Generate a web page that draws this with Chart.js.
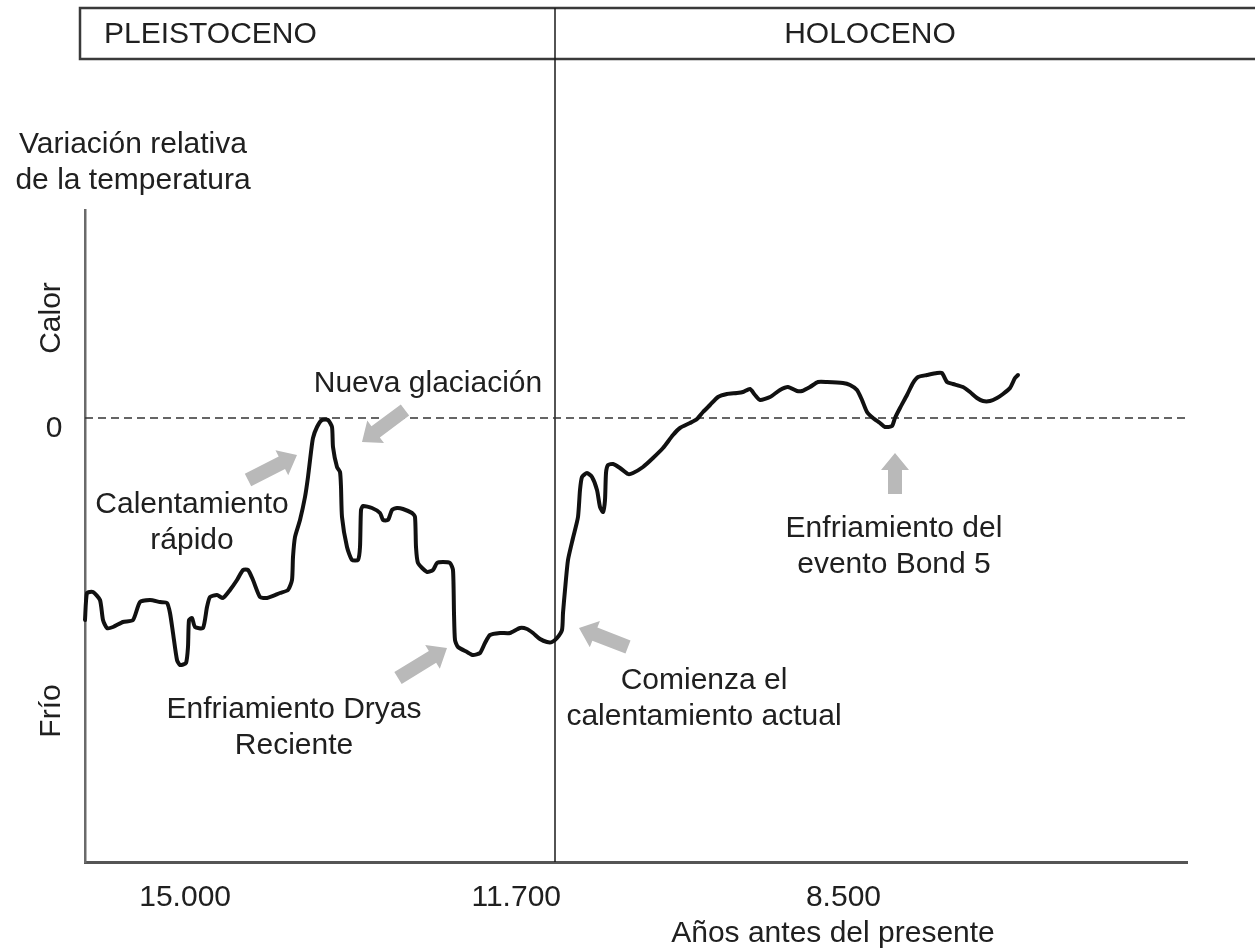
<!DOCTYPE html>
<html lang="es">
<head>
    <meta charset="UTF-8">
    <title>Variación relativa de la temperatura</title>
    <script src="https://cdn.jsdelivr.net/npm/chart.js@4.4.1/dist/chart.umd.min.js"></script>
    <style>
        html, body {
            margin: 0;
            padding: 0;
            background: #ffffff;
        }

        #wrap {
            width: 1255px;
            height: 949px;
        }
    </style>
</head>
<body>
    <div id="wrap"><canvas id="tempChart" width="1255" height="949"></canvas></div>

    <script>
        // años antes del presente
        const years = [
            16400, 16380, 16320, 16250, 16220, 16180, 16120, 16020, 15920, 15850,
            15750, 15650, 15580, 15550, 15520, 15480, 15450, 15390, 15370, 15360,
            15330, 15300, 15220, 15180, 15150, 15080, 15020, 14950, 14880, 14820,
            14770, 14720, 14650, 14580, 14450, 14370, 14330, 14320, 14300, 14250,
            14200, 14170, 14140, 14120, 14080, 14030, 13970, 13930, 13920, 13880,
            13850, 13840, 13830, 13780, 13730, 13670, 13650, 13640, 13620, 13530,
            13450, 13420, 13370, 13330, 13280, 13220, 13130, 13100, 13090, 13070,
            12980, 12920, 12880, 12820, 12750, 12720, 12710, 12700, 12670, 12580,
            12520, 12450, 12400, 12350, 12250, 12150, 12050, 11980, 11920, 11850,
            11780, 11730, 11680, 11630, 11620, 11600, 11570, 11520, 11470, 11450,
            11430, 11380, 11330, 11280, 11250, 11220, 11200, 11190, 11170, 11120,
            11050, 10970, 10920, 10820, 10720, 10620, 10520, 10450, 10350, 10280,
            10220, 10150, 10070, 9980, 9880, 9820, 9750, 9700, 9650, 9550,
            9450, 9370, 9280, 9230, 9150, 9070, 8980, 8820, 8750, 8680,
            8630, 8580, 8520, 8450, 8400, 8330, 8300, 8250, 8180, 8120,
            8070, 7980, 7880, 7830, 7780, 7720, 7620, 7550, 7480, 7420,
            7350, 7280, 7220, 7150, 7100, 7070
        ];

        // variación relativa (0 = nivel actual)
        const temps = [
            -2.02, -1.75, -1.74, -1.82, -2.02, -2.10, -2.09, -2.04, -2.02, -1.84,
            -1.82, -1.84, -1.85, -1.95, -2.15, -2.42, -2.47, -2.45, -2.29, -2.02,
            -2.00, -2.09, -2.10, -1.89, -1.79, -1.77, -1.80, -1.72, -1.62, -1.52,
            -1.52, -1.62, -1.79, -1.80, -1.75, -1.72, -1.62, -1.39, -1.19, -1.02,
            -0.79, -0.59, -0.34, -0.20, -0.09, -0.02, -0.02, -0.09, -0.29, -0.49,
            -0.54, -0.69, -0.99, -1.29, -1.42, -1.42, -1.29, -0.92, -0.88, -0.90,
            -0.95, -1.02, -1.02, -0.92, -0.90, -0.91, -0.95, -0.99, -1.29, -1.45,
            -1.54, -1.52, -1.45, -1.44, -1.45, -1.52, -1.95, -2.22, -2.29, -2.34,
            -2.37, -2.35, -2.25, -2.17, -2.15, -2.15, -2.10, -2.11, -2.15, -2.21,
            -2.24, -2.24, -2.20, -2.12, -1.95, -1.72, -1.42, -1.20, -0.99, -0.72,
            -0.59, -0.55, -0.59, -0.72, -0.89, -0.94, -0.82, -0.55, -0.47, -0.46,
            -0.50, -0.56, -0.55, -0.49, -0.40, -0.30, -0.17, -0.10, -0.05, -0.01,
            0.06, 0.13, 0.21, 0.24, 0.25, 0.26, 0.29, 0.23, 0.18, 0.21,
            0.28, 0.31, 0.27, 0.27, 0.31, 0.36, 0.36, 0.35, 0.33, 0.28,
            0.18, 0.06, 0.00, -0.05, -0.09, -0.08, 0.00, 0.10, 0.23, 0.35,
            0.41, 0.43, 0.45, 0.45, 0.36, 0.34, 0.31, 0.26, 0.20, 0.17,
            0.17, 0.20, 0.24, 0.30, 0.40, 0.43
        ];

        const tickYears = [15000, 11700, 8500];
        const boundaryYear = 11700;
        const zeroSpan = [16400, 5400];
        const periodLabels = ['PLEISTOCENO', 'HOLOCENO'];
        const yTitle = ['Variación relativa', 'de la temperatura'];
        const xTitle = 'Años antes del presente';

        // notas en coordenadas del gráfico (año, valor)
        const notes = [
            { lines: ['Nueva glaciación'], x: 12970, y: 0.26 },
            { lines: ['Calentamiento', 'rápido'], x: 15330, y: -0.95 },
            { lines: ['Enfriamiento Dryas', 'Reciente'], x: 14310, y: -3.00 },
            { lines: ['Comienza el', 'calentamiento actual'], x: 10210, y: -2.71 },
            { lines: ['Enfriamiento del', 'evento Bond 5'], x: 8310, y: -1.19 }
        ];
        const arrows = [
            { from: [14770, -0.62], to: [14280, -0.37] },
            { from: [13200, 0.08], to: [13630, -0.24] },
            { from: [13270, -2.60], to: [12780, -2.30] },
            { from: [10970, -2.29], to: [11460, -2.10] },
            { from: [8300, -0.76], to: [8300, -0.35] }
        ];

        const FONT = '30px "Liberation Sans", Arial, sans-serif';
        const INK = '#202020';

        function fmtYear(v) {
            return String(v).replace(/\B(?=(\d{3})+(?!\d))/g, '.');
        }

        function drawArrow(ctx, x1, y1, x2, y2) {
            const ang = Math.atan2(y2 - y1, x2 - x1);
            const len = Math.hypot(x2 - x1, y2 - y1);
            const shaft = 7, head = 14, headLen = 17;
            ctx.save();
            ctx.translate(x1, y1);
            ctx.rotate(ang);
            ctx.beginPath();
            ctx.moveTo(0, -shaft);
            ctx.lineTo(len - headLen, -shaft);
            ctx.lineTo(len - headLen, -head);
            ctx.lineTo(len, 0);
            ctx.lineTo(len - headLen, head);
            ctx.lineTo(len - headLen, shaft);
            ctx.lineTo(0, shaft);
            ctx.closePath();
            ctx.fillStyle = '#b9b9b9';
            ctx.fill();
            ctx.restore();
        }

        const overlay = {
            id: 'overlay',
            beforeDatasetsDraw(chart) {
                const { ctx, scales: { x, y } } = chart;
                const bx = x.getPixelForValue(boundaryYear);
                ctx.save();
                // cabecera de periodos
                ctx.strokeStyle = '#3a3a3a';
                ctx.lineWidth = 2.5;
                ctx.beginPath();
                ctx.moveTo(chart.width, 8);
                ctx.lineTo(x.left - 5, 8);
                ctx.lineTo(x.left - 5, 59);
                ctx.lineTo(chart.width, 59);
                ctx.stroke();
                // límite Pleistoceno / Holoceno
                ctx.strokeStyle = '#1a1a1a';
                ctx.lineWidth = 1.5;
                ctx.beginPath();
                ctx.moveTo(bx, 8);
                ctx.lineTo(bx, y.bottom);
                ctx.stroke();
                ctx.restore();
            },
            afterDraw(chart) {
                const { ctx, scales: { x, y } } = chart;
                ctx.save();
                ctx.font = FONT;
                ctx.fillStyle = INK;
                ctx.textBaseline = 'alphabetic';

                ctx.textAlign = 'left';
                ctx.fillText(periodLabels[0], x.left + 19, 43);
                ctx.textAlign = 'center';
                ctx.fillText(periodLabels[1], x.getPixelForValue(8550), 43);

                ctx.fillText(yTitle[0], 133, 153);
                ctx.fillText(yTitle[1], 133, 189);

                ctx.fillText('0', y.right - 31, y.getPixelForValue(0) + 19);
                ctx.fillText(xTitle, x.getPixelForValue(8920), 942);

                [['Calor', 1.0], ['Frío', -2.93]].forEach(([txt, v]) => {
                    ctx.save();
                    ctx.translate(y.right - 25, y.getPixelForValue(v));
                    ctx.rotate(-Math.PI / 2);
                    ctx.fillText(txt, 0, 0);
                    ctx.restore();
                });

                notes.forEach(n => {
                    const px = x.getPixelForValue(n.x);
                    const py = y.getPixelForValue(n.y);
                    n.lines.forEach((line, i) => ctx.fillText(line, px, py + i * 36));
                });

                arrows.forEach(a => {
                    drawArrow(ctx,
                        x.getPixelForValue(a.from[0]), y.getPixelForValue(a.from[1]),
                        x.getPixelForValue(a.to[0]), y.getPixelForValue(a.to[1]));
                });
                ctx.restore();
            }
        };

        document.addEventListener('DOMContentLoaded', () => {
            const ctx = document.getElementById('tempChart').getContext('2d');
            new Chart(ctx, {
                type: 'line',
                data: {
                    datasets: [{
                        label: 'Temperatura',
                        data: years.map((yr, i) => ({ x: yr, y: temps[i] })),
                        borderColor: '#111111',
                        borderWidth: 4,
                        borderJoinStyle: 'round',
                        borderCapStyle: 'round',
                        pointRadius: 0,
                        tension: 0.2,
                        clip: false
                    }, {
                        label: 'Cero',
                        data: zeroSpan.map(yr => ({ x: yr, y: 0 })),
                        borderColor: '#333333',
                        borderWidth: 1.5,
                        borderDash: [8, 5],
                        pointRadius: 0
                    }]
                },
                options: {
                    responsive: false,
                    animation: false,
                    layout: { padding: { top: 210, right: 68, left: 0, bottom: 0 } },
                    plugins: {
                        legend: { display: false },
                        tooltip: { enabled: false }
                    },
                    scales: {
                        x: {
                            type: 'linear',
                            reverse: true,
                            min: 5380,
                            max: 16400,
                            grid: { display: false },
                            border: { display: true, color: '#555555', width: 3 },
                            afterBuildTicks: scale => {
                                scale.ticks = tickYears.map(v => ({ value: v }));
                            },
                            afterFit: scale => { scale.height = 87; },
                            ticks: {
                                autoSkip: false,
                                maxRotation: 0,
                                align: 'end',
                                labelOffset: 6,
                                padding: 10,
                                color: INK,
                                font: { family: '"Liberation Sans", Arial, sans-serif', size: 30 },
                                callback: v => fmtYear(v)
                            }
                        },
                        y: {
                            min: -4.44,
                            max: 2.08,
                            grid: { display: false },
                            border: { display: true, color: '#6a6a6a', width: 2.5 },
                            ticks: { display: false },
                            afterFit: scale => { scale.width = 85; }
                        }
                    }
                },
                plugins: [overlay]
            });
        });
    </script>
</body>
</html>
